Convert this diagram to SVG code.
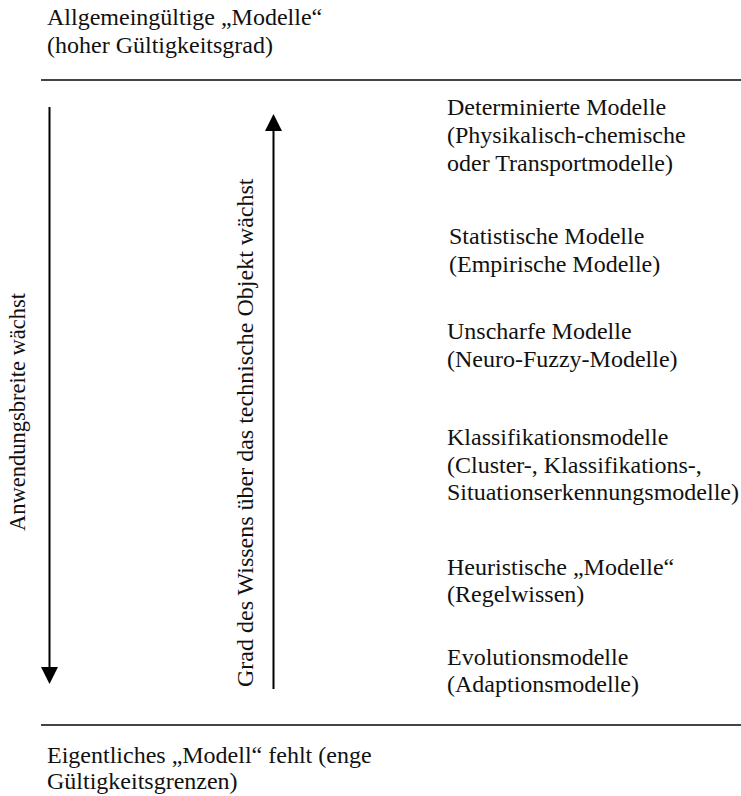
<svg xmlns="http://www.w3.org/2000/svg" width="741" height="796" viewBox="0 0 741 796">
<style>
text{font-family:"Liberation Serif","Times New Roman",serif;font-size:24px;fill:#111}
.rule{stroke:#444;stroke-width:2}
.arr{stroke:#000;stroke-width:2;fill:none}
</style>
<defs>
<marker id="ah" viewBox="0 0 17 17" refX="0" refY="8.5" markerWidth="17" markerHeight="17" markerUnits="userSpaceOnUse" orient="auto">
<path d="M0,0 L17,8.5 L0,17 Z" fill="#000"/>
</marker>
</defs>
<rect width="741" height="796" fill="#fff"/>
<g id="top-label">
<text x="47" y="25">Allgemeingültige „Modelle“</text>
<text x="47" y="53">(hoher Gültigkeitsgrad)</text>
</g>
<g id="bottom-label">
<text x="47" y="763">Eigentliches „Modell“ fehlt (enge</text>
<text x="47" y="789">Gültigkeitsgrenzen)</text>
</g>
<g id="rules">
<line class="rule" x1="41" y1="80" x2="741" y2="80"/>
<line class="rule" x1="41" y1="725" x2="741" y2="725"/>
</g>
<g id="connectors">
<line class="arr" x1="49.5" y1="107" x2="49.5" y2="667" marker-end="url(#ah)"/>
<line class="arr" x1="273.5" y1="689" x2="273.5" y2="131" marker-end="url(#ah)"/>
</g>
<g id="axis-left">
<text transform="translate(25,531) rotate(-90)" style="font-size:22.5px">Anwendungsbreite wächst</text>
</g>
<g id="axis-right">
<text transform="translate(253,687) rotate(-90)">Grad des Wissens über das technische Objekt wächst</text>
</g>
<g id="determinierte">
<text x="447" y="115">Determinierte Modelle</text>
<text x="447" y="143">(Physikalisch-chemische</text>
<text x="447" y="171">oder Transportmodelle)</text>
</g>
<g id="statistische">
<text x="449" y="244">Statistische Modelle</text>
<text x="449" y="272">(Empirische Modelle)</text>
</g>
<g id="unscharfe">
<text x="447" y="339">Unscharfe Modelle</text>
<text x="447" y="367">(Neuro-Fuzzy-Modelle)</text>
</g>
<g id="klassifikation">
<text x="447" y="445">Klassifikationsmodelle</text>
<text x="447" y="473">(Cluster-, Klassifikations-,</text>
<text x="447" y="500">Situationserkennungsmodelle)</text>
</g>
<g id="heuristische">
<text x="447" y="575">Heuristische „Modelle“</text>
<text x="447" y="602">(Regelwissen)</text>
</g>
<g id="evolution">
<text x="447" y="665">Evolutionsmodelle</text>
<text x="447" y="692">(Adaptionsmodelle)</text>
</g>
</svg>
